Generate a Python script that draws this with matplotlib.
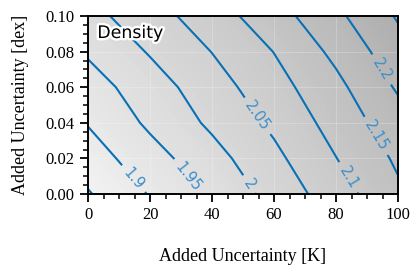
import numpy as np
import matplotlib
matplotlib.use("Agg")
import matplotlib.pyplot as plt
import matplotlib.patheffects as pe
from matplotlib.colors import LinearSegmentedColormap
from matplotlib.ticker import AutoMinorLocator

# grid of added uncertainties
unc_K = [0, 20, 40, 60, 80, 100]
unc_dex = [0.00, 0.02, 0.04, 0.06, 0.08, 0.10]
# density values, rows = unc_dex, columns = unc_K
density = [
    [1.846, 1.903, 1.959, 2.017, 2.077, 2.141],
    [1.875, 1.930, 1.982, 2.038, 2.099, 2.158],
    [1.903, 1.959, 2.009, 2.060, 2.119, 2.179],
    [1.928, 1.977, 2.028, 2.081, 2.137, 2.206],
    [1.956, 2.004, 2.051, 2.101, 2.162, 2.230],
    [1.984, 2.029, 2.077, 2.129, 2.189, 2.255],
]
unlabeled_levels = [1.85, 2.25]
label_levels = [1.90, 1.95, 2.00, 2.05, 2.10, 2.15, 2.20]
label_pos = [(14.2, 0.0079), (32.8, 0.0105), (52.2, 0.0058), (54.2, 0.0433),
             (84.0, 0.0094), (92.9, 0.0326), (94.5, 0.0697)]

serif = ['Liberation Serif', 'DejaVu Serif']
line_color = '#0870b5'

fig = plt.figure(figsize=(4.15, 2.73), dpi=100)
ax = fig.add_axes([88/415, 1-194/273, 310/415, 178/273])

X, Y = np.meshgrid(unc_K, unc_dex)
Z = np.array(density)

gray = LinearSegmentedColormap.from_list('g', ['#f4f4f4', '#adadad'])
ax.contourf(X, Y, Z, levels=np.linspace(1.84, 2.26, 60), cmap=gray, zorder=0)

ax.grid(True, color='white', alpha=0.22, lw=0.8, zorder=1)

ax.contour(X, Y, Z, levels=unlabeled_levels, colors=line_color, linewidths=1.5, zorder=2)
cs = ax.contour(X, Y, Z, levels=label_levels, colors=line_color, linewidths=1.5, zorder=2)
lbl = ax.clabel(cs, inline=True, inline_spacing=6, fmt='%g', fontsize=10.5,
                manual=label_pos, colors='#3d8ec9')
for t in lbl:
    t.set_family('DejaVu Sans')

ax.text(0.03, 0.955, 'Density', transform=ax.transAxes, ha='left', va='top',
        fontsize=12.5, family='DejaVu Sans', color='black',
        path_effects=[pe.withStroke(linewidth=3.5, foreground='white')], zorder=5)

ax.set_xlim(0, 100)
ax.set_ylim(0, 0.10)
ax.set_xticks(unc_K)
ax.set_yticks(unc_dex)
ax.set_yticklabels([f'{v:.2f}' for v in unc_dex])
ax.xaxis.set_minor_locator(AutoMinorLocator(4))
ax.yaxis.set_minor_locator(AutoMinorLocator(4))
ax.tick_params(which='major', direction='out', length=5.5, width=1.3, labelsize=12, pad=4)
ax.tick_params(which='minor', direction='out', length=3.5, width=1.1)
for lab in ax.get_xticklabels() + ax.get_yticklabels():
    lab.set_family(serif)
for s in ax.spines.values():
    s.set_linewidth(1.4)

ax.set_xlabel('Added Uncertainty [K]', family=serif, fontsize=13, labelpad=18)
ax.set_ylabel('Added Uncertainty [dex]', family=serif, fontsize=13, labelpad=12)

fig.savefig('out.png', dpi=100)
